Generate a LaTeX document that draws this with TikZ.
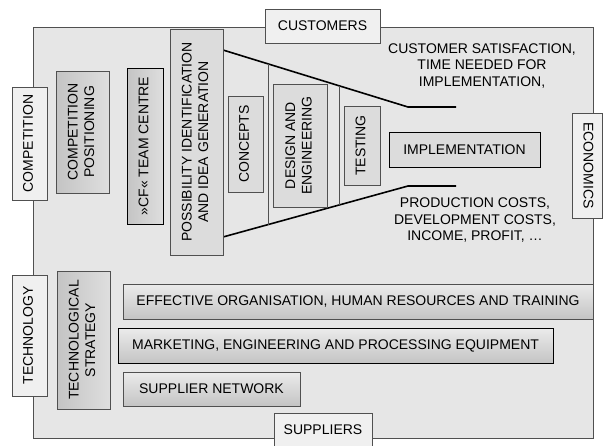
\documentclass[tikz,border=0pt]{standalone}
\usepackage{fontspec}
\usepackage{graphicx}
\setmainfont{Liberation Sans}
\usetikzlibrary{calc}
\definecolor{panel}{HTML}{E6E6E6}
\definecolor{tagfill}{HTML}{F0F0F0}
\definecolor{boxfill}{HTML}{DCDCDC}
\definecolor{shadelight}{HTML}{DEDEDE}
\definecolor{shadedark}{HTML}{C4C4C4}
\definecolor{edge}{HTML}{505050}
\tikzset{every node/.append style = {font = \fontsize{14}{16.5}\selectfont, align = center, inner sep = 0pt}}
\tikzset{boxdim/.style 2 args = {minimum width = #1, minimum height = #2}}
\newcommand{\uptext}[1]{\rotatebox{90}{\begin{tabular}{@{}c@{}}#1\end{tabular}}}
\newcommand{\downtext}[1]{\rotatebox{-90}{\begin{tabular}{@{}c@{}}#1\end{tabular}}}

\begin{document}
\begin{tikzpicture}[x = 1pt, y = -1pt, line width = 0.9pt,
  tag/.style = {draw = edge, fill = tagfill},
  flatbox/.style = {draw = edge, fill = boxfill},
  shadebox/.style = {draw = edge, top color = shadelight!60!white, bottom color = shadedark},
  sideshade/.style = {draw = edge, left color = shadedark, right color = shadelight},
  funnel/.style = {line width = 1.6pt, black}]
\useasboundingbox (0,0) rectangle (604,445);
% frame of the company
\node[draw = edge, fill = panel, boxdim = {560}{411}] (frame) at (313,232.5) {};
% surroundings
\node[tag, boxdim = {115}{34}] (customers) at (322.5,26) {CUSTOMERS};
\node[tag, boxdim = {98}{33}] (suppliers) at (323,429.5) {SUPPLIERS};
\node[tag, boxdim = {35}{113}] (competition) at (29.5,143.5) {\uptext{COMPETITION}};
\node[tag, boxdim = {35}{121}] (technology) at (29.5,335.5) {\uptext{TECHNOLOGY}};
\node[tag, boxdim = {30}{105}] (economics) at (587,165.5) {\downtext{ECONOMICS}};
% funnel
\coordinate (ftop) at (223,50);
\coordinate (fbend) at (408,107);
\coordinate (fend) at (456,107);
\coordinate (gtop) at (223,237);
\coordinate (gbend) at (408,186);
\coordinate (gend) at (456,186);
\draw[funnel] (ftop) -- (fbend) -- (fend);
\draw[funnel] (gtop) -- (gbend) -- (gend);
\draw[edge] ($(ftop)!0.243!(fbend)$) -- ($(gtop)!0.243!(gbend)$);
\draw[edge] ($(ftop)!0.632!(fbend)$) -- ($(gtop)!0.632!(gbend)$);
% stages
\node[sideshade, boxdim = {53}{122}] (positioning) at (82.5,132) {\uptext{COMPETITION\\POSITIONING}};
\node[sideshade, boxdim = {36}{156}, draw = black] (cfteam) at (145,146) {\uptext{»CF« TEAM CENTRE}};
\node[flatbox, boxdim = {53}{226}] (ideas) at (196.5,142) {\uptext{POSSIBILITY IDENTIFICATION\\AND IDEA GENERATION}};
\node[flatbox, boxdim = {35}{96}] (concepts) at (245.5,144) {\uptext{CONCEPTS}};
\node[flatbox, boxdim = {54}{123}] (design) at (300,145.5) {\uptext{DESIGN AND\\ENGINEERING}};
\node[flatbox, boxdim = {36}{79}] (testing) at (362,145.5) {\uptext{TESTING}};
\node[flatbox, draw = black, boxdim = {151}{35}] (implementation) at (464.5,149.5) {IMPLEMENTATION};
\node (custtext) at (482,66) {CUSTOMER SATISFACTION,\\TIME NEEDED FOR\\IMPLEMENTATION,};
\node (costtext) at (475,220) {PRODUCTION COSTS,\\DEVELOPMENT COSTS,\\INCOME, PROFIT, …};
% resources
\node[sideshade, boxdim = {53}{138}] (techstrategy) at (83.5,340) {\uptext{TECHNOLOGICAL\\STRATEGY}};
\node[shadebox, boxdim = {470}{35}] (organisation) at (358,301.5) {EFFECTIVE ORGANISATION, HUMAN RESOURCES AND TRAINING};
\node[shadebox, draw = black, boxdim = {435}{35}] (equipment) at (335.5,345.5) {MARKETING, ENGINEERING AND PROCESSING EQUIPMENT};
\node[shadebox, boxdim = {177}{34}] (network) at (211.5,389) {SUPPLIER NETWORK};
\end{tikzpicture}
\end{document}
